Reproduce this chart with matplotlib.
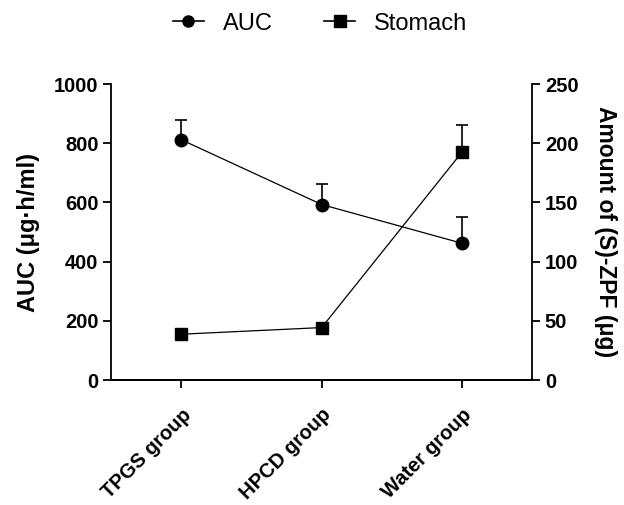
import matplotlib.pyplot as plt
from matplotlib.lines import Line2D
import numpy as np

plt.rcParams['font.family'] = ['Liberation Sans', 'DejaVu Sans']

groups = ['TPGS group', 'HPCD group', 'Water group']
auc = [812, 593, 462]
auc_err = [66, 70, 90]
stomach = [38.7, 44.3, 192.6]
stomach_err = [3, 3, 23]

x = np.arange(len(groups))

fig = plt.figure(figsize=(6.24, 5.05), dpi=100)
ax = fig.add_axes([0.178, 0.2475, 0.675, 0.586])
ax2 = ax.twinx()

ax.errorbar(x, auc, yerr=[np.zeros(3), auc_err], color='black', lw=0.9,
            marker='o', ms=9, capsize=4, elinewidth=1.2, capthick=1.2,
            zorder=3)
ax2.errorbar(x, stomach, yerr=[np.zeros(3), stomach_err], color='black', lw=0.9,
             marker='s', ms=9, capsize=4, elinewidth=1.2, capthick=1.2,
             zorder=3)

ax.set_xlim(-0.5, 2.5)
ax.set_ylim(0, 1000)
ax2.set_ylim(0, 250)
ax.set_yticks([0, 200, 400, 600, 800, 1000])
ax2.set_yticks([0, 50, 100, 150, 200, 250])
ax.set_xticks(x)
ax.set_xticklabels(groups, rotation=45, ha='right', rotation_mode='anchor',
                   fontsize=15, fontweight='bold')

for a in (ax, ax2):
    a.spines['top'].set_visible(False)
    for s in a.spines.values():
        s.set_linewidth(1.3)
    a.tick_params(direction='out', length=6, width=1.3, labelsize=14.5)
ax.spines['right'].set_visible(False)
ax2.spines['left'].set_visible(False)
for lbl in ax.get_yticklabels() + ax2.get_yticklabels():
    lbl.set_fontweight('bold')
ax.tick_params(axis='x', pad=12)
ax.tick_params(axis='y', pad=3)
ax2.tick_params(axis='y', pad=3)

ax.set_ylabel('AUC (μg·h/ml)', fontsize=17, fontweight='bold', labelpad=10)
ax2.set_ylabel('Amount of (S)-ZPF (μg)', fontsize=16.5, fontweight='bold',
               rotation=270, labelpad=28)

handles = [Line2D([], [], color='black', lw=1.2, marker='o', ms=8),
           Line2D([], [], color='black', lw=1.2, marker='s', ms=8)]
fig.legend(handles, ['AUC', 'Stomach'], loc='center',
           bbox_to_anchor=(0.513, 0.953), ncol=2, frameon=False, fontsize=17,
           handlelength=1.3, columnspacing=2.2, handletextpad=0.8)

fig.savefig('out.png', dpi=100)
